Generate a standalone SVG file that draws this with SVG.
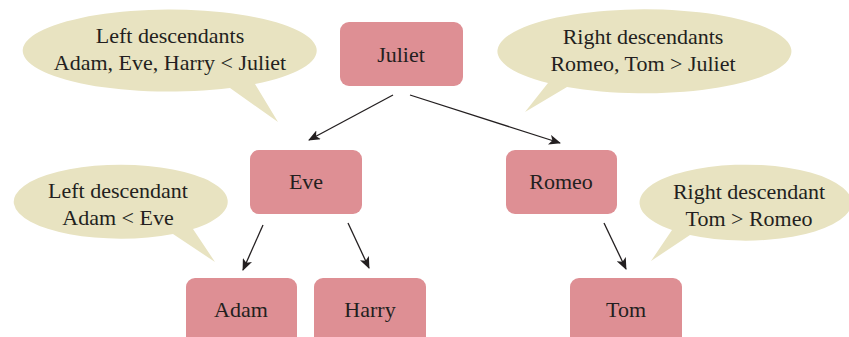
<svg xmlns="http://www.w3.org/2000/svg" width="849" height="337" viewBox="0 0 849 337">
<defs>
<style>
.node rect{fill:#DE8F94;}
.bubble path{fill:#E8E3C1;}
text{font-family:'Liberation Serif','Times New Roman',serif;font-size:22px;fill:#231F20;text-anchor:middle;}
.edge{stroke:#231F20;stroke-width:1.3;fill:none;marker-end:url(#arr);}
</style>
<marker id="arr" markerWidth="12" markerHeight="10" refX="11" refY="5" orient="auto" markerUnits="userSpaceOnUse">
<path d="M0,0 L12,5 L0,10 L3,5 Z" fill="#231F20"/>
</marker>
</defs>
<rect width="849" height="337" fill="#fff"/>
<g id="bubble-left-top" class="bubble">
<path d="M255,84 A147,41 0 1,0 230,88 L278,122 Z"/>
<text x="170" y="43">Left descendants</text>
<text x="170" y="70">Adam, Eve, Harry &lt; Juliet</text>
</g>
<g id="bubble-right-top" class="bubble">
<path d="M548,83 A147,42 0 1,1 567,87 L525,112 Z"/>
<text x="643" y="44">Right descendants</text>
<text x="643" y="71">Romeo, Tom &gt; Juliet</text>
</g>
<g id="bubble-left-mid" class="bubble">
<path d="M193,229 A107,37 0 1,0 173,234 L215,262 Z"/>
<text x="118" y="198">Left descendant</text>
<text x="118" y="225">Adam &lt; Eve</text>
</g>
<g id="bubble-right-mid" class="bubble">
<path d="M672,230 A106,38 0 1,1 690,235 L651,261 Z"/>
<text x="749" y="199">Right descendant</text>
<text x="749" y="226">Tom &gt; Romeo</text>
</g>
<g id="connectors">
<line class="edge" x1="393" y1="95" x2="309" y2="140"/>
<line class="edge" x1="410" y1="95" x2="560" y2="143"/>
<line class="edge" x1="263" y1="225" x2="243" y2="270"/>
<line class="edge" x1="348" y1="223" x2="369" y2="268"/>
<line class="edge" x1="604" y1="223" x2="626" y2="269"/>
</g>
<g id="node-juliet" class="node"><rect x="340" y="22" width="123" height="64" rx="9"/><text x="401" y="62">Juliet</text></g>
<g id="node-eve" class="node"><rect x="250" y="150" width="112" height="64" rx="9"/><text x="306" y="189">Eve</text></g>
<g id="node-romeo" class="node"><rect x="506" y="150" width="111" height="64" rx="9"/><text x="561" y="189">Romeo</text></g>
<g id="node-adam" class="node"><rect x="186" y="278" width="111" height="70" rx="9"/><text x="241" y="317">Adam</text></g>
<g id="node-harry" class="node"><rect x="314" y="278" width="112" height="70" rx="9"/><text x="370" y="317">Harry</text></g>
<g id="node-tom" class="node"><rect x="570" y="278" width="112" height="70" rx="9"/><text x="626" y="317">Tom</text></g>
</svg>
